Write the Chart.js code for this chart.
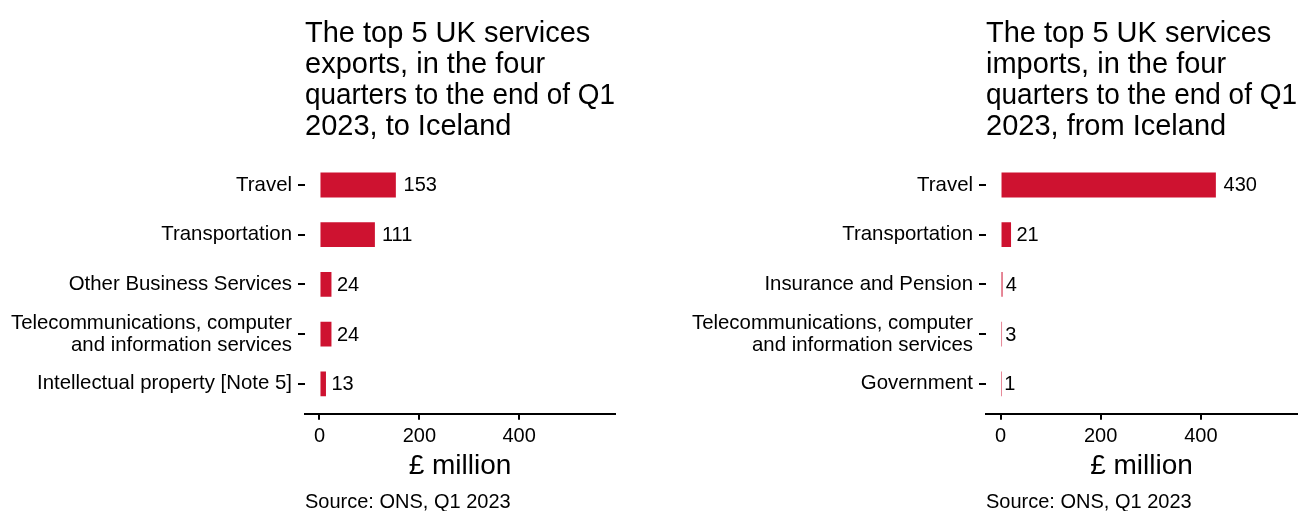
<!DOCTYPE html>
<html lang="en">
<head>
<meta charset="UTF-8">
<title>UK services trade with Iceland</title>
<script src="https://cdn.jsdelivr.net/npm/chart.js"></script>
<style>
    html, body { margin: 0; padding: 0; background: #fff; }
    .row { display: flex; width: 1312px; height: 511px; overflow: hidden; }
    .panel { width: 656px; height: 511px; position: relative; }
    canvas { display: block; }
</style>
</head>
<body>
<div class="row">
    <div class="panel"><canvas id="exportsChart" width="656" height="511"></canvas></div>
    <div class="panel"><canvas id="importsChart" width="656" height="511"></canvas></div>
</div>
<script>
// data
const exportCategories = ['Travel', 'Transportation', 'Other Business Services',
    ['Telecommunications, computer', 'and information services'], 'Intellectual property [Note 5]'];
const exportValues = [153, 111, 24, 24, 13];

const importCategories = ['Travel', 'Transportation', 'Insurance and Pension',
    ['Telecommunications, computer', 'and information services'], 'Government'];
const importValues = [430, 21, 4, 3, 1];

const xTicks = [0, 200, 400];

const exportTitle = ['The top 5 UK services', 'exports, in the four', 'quarters to the end of Q1', '2023, to Iceland'];
const importTitle = ['The top 5 UK services', 'imports, in the four', 'quarters to the end of Q1', '2023, from Iceland'];
const axisTitle = '£ million';
const sourceText = 'Source: ONS, Q1 2023';

const FONT = "'Liberation Sans', Arial, sans-serif";
const RED = '#CE1230';

// numbers at the end of each bar
const valueLabels = {
    id: 'valueLabels',
    afterDatasetsDraw(chart) {
        const ctx = chart.ctx;
        const values = chart.data.datasets[0].data;
        ctx.save();
        ctx.font = '20px ' + FONT;
        ctx.fillStyle = '#000';
        ctx.textAlign = 'left';
        ctx.textBaseline = 'middle';
        chart.getDatasetMeta(0).data.forEach((bar, i) => {
            const txt = String(values[i].x);
            const w = ctx.measureText(txt).width;
            ctx.fillText(txt, bar.x + 0.2 * w + 1, bar.y + 1);
        });
        ctx.restore();
    }
};

function makeChart(id, labels, values, title, yWidth, rightPad) {
    const ctx = document.getElementById(id).getContext('2d');
    // the index axis is linear so that it can carry ggplot's 0.6 band expansion
    const points = values.map((v, i) => ({ x: v, y: i }));
    return new Chart(ctx, {
        type: 'bar',
        data: {
            datasets: [{
                data: points,
                backgroundColor: RED,
                borderWidth: 0,
                categoryPercentage: 1,
                barPercentage: 0.5
            }]
        },
        options: {
            indexAxis: 'y',
            responsive: false,
            animation: false,
            layout: { padding: { left: 0, right: rightPad, top: 0, bottom: 0 } },
            scales: {
                x: {
                    type: 'linear',
                    min: -29,
                    max: 592,
                    afterBuildTicks: axis => { axis.ticks = xTicks.map(v => ({ value: v })); },
                    border: { display: true, color: '#000', width: 2 },
                    grid: { drawOnChartArea: false, drawTicks: true, tickLength: 6, tickColor: '#000', lineWidth: 2 },
                    ticks: { color: '#000', padding: 5, font: { family: FONT, size: 20 }, maxRotation: 0 },
                    title: {
                        display: true,
                        text: axisTitle,
                        color: '#000',
                        font: { family: FONT, size: 28, lineHeight: 0.88 },
                        padding: { top: 0, bottom: 0 }
                    }
                },
                y: {
                    type: 'linear',
                    reverse: true,
                    offset: false,
                    min: -0.6,
                    max: labels.length - 0.4,
                    afterBuildTicks: axis => { axis.ticks = labels.map((l, i) => ({ value: i })); },
                    afterFit: axis => { axis.width = yWidth; },
                    border: { display: false },
                    grid: { offset: false, drawOnChartArea: false, drawTicks: true, tickLength: 7, tickColor: '#000', lineWidth: 2 },
                    ticks: {
                        color: '#000',
                        padding: 6,
                        font: { family: FONT, size: 20.4, lineHeight: 1.1 },
                        callback: value => labels[value]
                    }
                }
            },
            plugins: {
                legend: { display: false },
                tooltip: { enabled: false },
                title: {
                    display: true,
                    text: title,
                    align: 'start',
                    fullSize: false,
                    color: '#000',
                    font: { family: FONT, size: 29, weight: 'normal', lineHeight: 1.07 },
                    padding: { top: 18, bottom: 13 }
                },
                subtitle: {
                    display: true,
                    text: sourceText,
                    position: 'bottom',
                    align: 'start',
                    fullSize: false,
                    color: '#000',
                    font: { family: FONT, size: 20, lineHeight: 0.9 },
                    padding: { top: 14.7, bottom: 0 }
                }
            }
        },
        plugins: [valueLabels]
    });
}

makeChart('exportsChart', exportCategories, exportValues, exportTitle, 305, 41);
makeChart('importsChart', importCategories, importValues, importTitle, 330, 15);
</script>
</body>
</html>
